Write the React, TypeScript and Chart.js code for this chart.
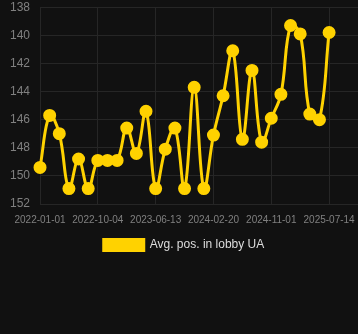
import React, { useEffect, useRef } from "react";
import { Chart, registerables } from "chart.js";

Chart.register(...registerables);

const labels: string[] = [
  "2022-01-01", "2022-02-16", "2022-04-03", "2022-05-19", "2022-07-04", "2022-08-19",
  "2022-10-04", "2022-11-15", "2022-12-27", "2023-02-07", "2023-03-21", "2023-05-02",
  "2023-06-13", "2023-07-25", "2023-09-05", "2023-10-17", "2023-11-28", "2024-01-09",
  "2024-02-20", "2024-04-02", "2024-05-15", "2024-06-27", "2024-08-08", "2024-09-20",
  "2024-11-01", "2024-12-13", "2025-01-24", "2025-03-07", "2025-04-19", "2025-06-01",
  "2025-07-14", "2025-08-25", "2025-10-06", "2025-11-17",
];

const avgPos: (number | null)[] = [
  149.4, 145.7, 147.0, 150.9, 148.8, 150.9,
  148.9, 148.9, 148.9, 146.6, 148.4, 145.4,
  150.9, 148.1, 146.6, 150.9, 143.7, 150.9,
  147.1, 144.3, 141.1, 147.4, 142.5, 147.6,
  145.9, 144.2, 139.3, 139.9, 145.6, 146.0,
  139.8, null, null, null,
];

const yTicks = { min: 138, max: 152, step: 2 };
const seriesName = "Avg. pos. in lobby UA";

export default function App() {
  const ref = useRef<HTMLCanvasElement | null>(null);

  useEffect(() => {
    document.body.style.margin = "0";
    document.body.style.background = "#111111";
    const canvas = ref.current;
    if (!canvas) return;
    const chart = new Chart(canvas, {
      type: "line",
      data: {
        labels,
        datasets: [
          {
            label: seriesName,
            data: avgPos,
            borderColor: "#ffd200",
            backgroundColor: "#ffd200",
            pointBackgroundColor: "#ffd200",
            pointBorderColor: "#ffd200",
            borderWidth: 3,
            pointRadius: 5,
            tension: 0.4,
            fill: false,
          },
        ],
      },
      options: {
        animation: false,
        responsive: false,
        maintainAspectRatio: false,
        layout: { autoPadding: false, padding: { left: 10, right: 0, top: 0, bottom: 0 } },
        scales: {
          x: {
            grid: {
              color: (ctx: any) => (ctx.index % 6 === 0 ? "#262626" : "transparent"),
              drawTicks: true,
              tickLength: 10,
              tickColor: "transparent",
            },
            border: { display: false },
            ticks: {
              autoSkip: false,
              maxRotation: 0,
              color: "#808080",
              font: { size: 10 },
              padding: 0,
              callback: (_v: any, i: number) => (i % 6 === 0 ? labels[i] : ""),
            },
          },
          y: {
            reverse: true,
            min: yTicks.min,
            max: yTicks.max,
            grid: { color: "#262626", drawTicks: true, tickLength: 10, tickColor: "transparent" },
            border: { display: false },
            ticks: {
              stepSize: yTicks.step,
              color: "#808080",
              font: { size: 12 },
              padding: 0,
            },
          },
        },
        plugins: {
          legend: {
            position: "bottom",
            labels: {
              color: "#dddddd",
              font: { size: 12 },
              boxWidth: 40,
              boxHeight: 11,
              padding: 13,
            },
          },
          tooltip: { enabled: false },
        },
      },
    });
    return () => chart.destroy();
  }, []);

  return (
    <div style={{ position: "fixed", left: 0, top: 0, width: 358, height: 334, background: "#111111" }}>
      <canvas ref={ref} width={358} height={261} style={{ display: "block" }} />
    </div>
  );
}
